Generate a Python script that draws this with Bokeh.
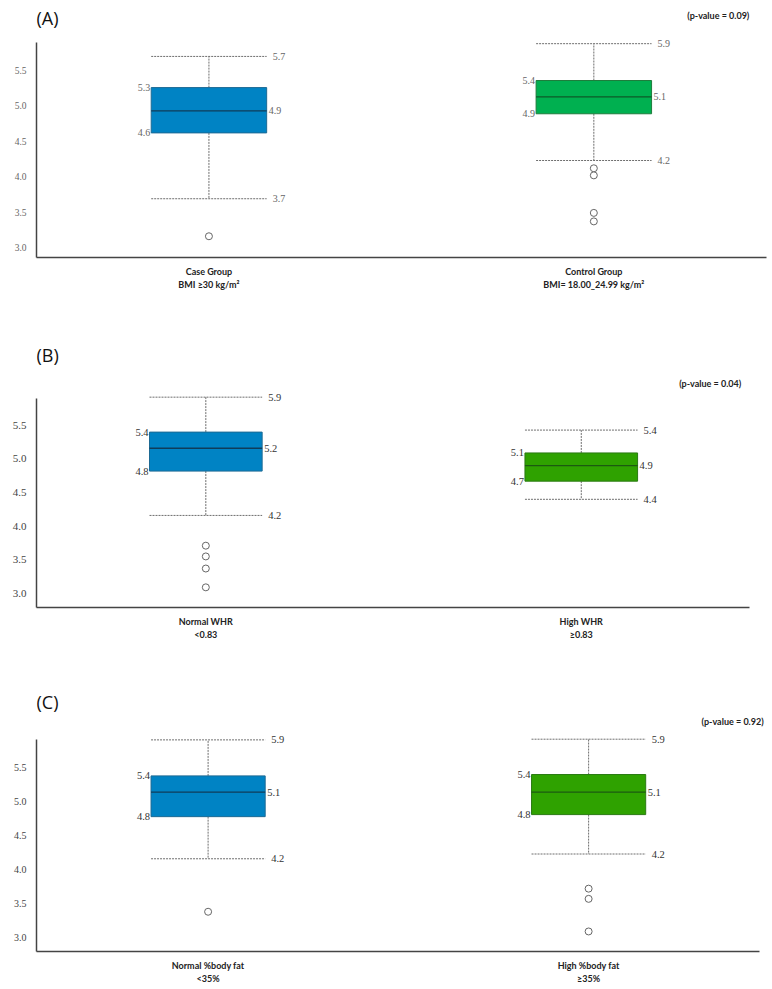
from bokeh.plotting import figure
from bokeh.models import Range1d, FixedTicker, Label, NumeralTickFormatter
from bokeh.layouts import column
from bokeh.embed import file_html
from bokeh.resources import INLINE
from bokeh.core.properties import value

# ---------------- data ----------------
y_ticks = [3.0, 3.5, 4.0, 4.5, 5.0, 5.5]

a_groups = ["Case Group\nBMI \u226530 kg/m\u00b2", "Control Group\nBMI= 18.00_24.99 kg/m\u00b2"]
a_lower = [3.69, 4.23]
a_q1 = [4.62, 4.89]
a_median = [4.93, 5.13]
a_q3 = [5.26, 5.36]
a_upper = [5.70, 5.88]
a_outliers = [[3.16], [4.12, 4.02, 3.49, 3.37]]
a_pvalue = "(p-value = 0.09)"

b_groups = ["Normal WHR\n<0.83", "High WHR\n\u22650.83"]
b_lower = [4.16, 4.40]
b_q1 = [4.82, 4.67]
b_median = [5.16, 4.90]
b_q3 = [5.40, 5.09]
b_upper = [5.92, 5.43]
b_outliers = [[3.71, 3.55, 3.37, 3.09], []]
b_pvalue = "(p-value = 0.04)"

c_groups = ["Normal %body fat\n<35%", "High %body fat\n\u226535%"]
c_lower = [4.16, 4.23]
c_q1 = [4.78, 4.81]
c_median = [5.14, 5.14]
c_q3 = [5.38, 5.40]
c_upper = [5.91, 5.92]
c_outliers = [[3.38], [3.72, 3.57, 3.09]]
c_pvalue = "(p-value = 0.92)"

BOX_W = 0.30
SERIF = value("Liberation Serif")
W = 770


def panel(tag, groups, lower, q1, med, q3, upper, outliers, ptext,
          fills, edges, medcols, H, bottom, left, yr, ybound, xr, xbound,
          tick_size, tick_color, lab_size, lab_color, tag_pos, p_pos):
    p = figure(width=W, height=H, output_backend="svg", toolbar_location=None,
               x_range=Range1d(*xr), y_range=Range1d(*yr),
               min_border_top=0, min_border_bottom=bottom,
               min_border_left=left, min_border_right=0)
    p.outline_line_color = None
    p.grid.visible = False
    p.background_fill_color = "white"
    pos = [1.0, 2.0]
    hw = BOX_W / 2
    xl = [x - hw for x in pos]
    xr_ = [x + hw for x in pos]

    # whiskers (dotted)
    for a, b in ((q3, upper), (q1, lower)):
        p.segment(x0=pos, y0=a, x1=pos, y1=b, line_color="#6e6e6e",
                  line_width=1, line_dash="2 1")
    for v in (upper, lower):
        p.segment(x0=xl, y0=v, x1=xr_, y1=v, line_color="#6e6e6e",
                  line_width=1, line_dash="2 1")
    # boxes
    p.vbar(x=pos, width=BOX_W, bottom=q1, top=q3, fill_color=fills,
           line_color=edges, line_width=1)
    p.segment(x0=xl, y0=med, x1=xr_, y1=med, line_color=medcols, line_width=1.3)
    # outliers
    ox, oy = [], []
    for x, vals in zip(pos, outliers):
        for v in vals:
            ox.append(x)
            oy.append(v)
    if ox:
        p.scatter(x=ox, y=oy, size=7, marker="circle", fill_color="white",
                  line_color="#666666", line_width=1)
    # value labels
    fmt = lambda arr: [f"{v:.1f}" for v in arr]
    kw = dict(text_font=SERIF, text_font_size=f"{lab_size}px", text_color=lab_color,
              text_baseline="middle")
    p.text(x=xl, y=q3, text=fmt(q3), text_align="right", x_offset=-1, **kw)
    p.text(x=xl, y=q1, text=fmt(q1), text_align="right", x_offset=-1, **kw)
    p.text(x=xr_, y=med, text=fmt(med), text_align="left", x_offset=2, **kw)
    p.text(x=xr_, y=upper, text=fmt(upper), text_align="left", x_offset=6, **kw)
    p.text(x=xr_, y=lower, text=fmt(lower), text_align="left", x_offset=6, **kw)

    # axes
    p.yaxis.ticker = FixedTicker(ticks=y_ticks)
    p.yaxis.formatter = NumeralTickFormatter(format="0.0")
    p.yaxis.bounds = ybound
    p.yaxis.major_label_text_font = "Liberation Serif"
    p.yaxis.major_label_text_font_size = f"{tick_size}px"
    p.yaxis.major_label_text_color = tick_color
    p.yaxis.major_tick_out = 0
    p.yaxis.major_tick_in = 0
    p.yaxis.minor_tick_out = 0
    p.yaxis.minor_tick_in = 0
    p.yaxis.major_label_standoff = 10
    p.xaxis.ticker = FixedTicker(ticks=pos)
    p.xaxis.bounds = xbound
    p.xaxis.major_label_overrides = {1: groups[0], 2: groups[1]}
    p.xaxis.major_label_text_font = "Lato"
    p.xaxis.major_label_text_font_style = "bold"
    p.xaxis.major_label_text_font_size = "9px"
    p.xaxis.major_label_text_color = "#222222"
    p.xaxis.major_tick_out = 0
    p.xaxis.major_tick_in = 0
    p.xaxis.minor_tick_out = 0
    p.xaxis.minor_tick_in = 0
    p.xaxis.major_label_standoff = 8
    for ax in (p.xaxis, p.yaxis):
        ax.axis_line_color = "#444444"
        ax.axis_line_width = 1.5

    p.add_layout(Label(x=tag_pos[0], y=tag_pos[1], text=tag, text_font="Open Sans",
                       text_font_size="18px", text_color="#111111",
                       text_baseline="middle", text_align="left"))
    p.add_layout(Label(x=p_pos[0], y=p_pos[1], text=ptext, text_font="Lato",
                       text_font_style="bold", text_font_size="9px",
                       text_color="#222222", text_baseline="middle",
                       text_align="right"))
    return p


pa = panel("(A)", a_groups, a_lower, a_q1, a_median, a_q3, a_upper, a_outliers,
           a_pvalue, ["#0083C4", "#00B050"], ["#1d6a94", "#1e7d3c"],
           ["#0f3d5a", "#0d5a28"], 330, 73, 34,
           (2.86, 6.49), (2.86, 5.90), (0.552, 2.459), (0.552, 2.448),
           9.5, "#666666", 10, "#666666",
           (0.552, 6.236), (2.404, 6.278))
pb = panel("(B)", b_groups, b_lower, b_q1, b_median, b_q3, b_upper, b_outliers,
           b_pvalue, ["#0083C4", "#2FA200"], ["#1d6a94", "#2a7a12"],
           ["#0f3d5a", "#1c5a10"], 325, 48, 36,
           (2.79, 6.912), (2.79, 5.90), (0.549, 2.504), (0.549, 2.448),
           11, "#444444", 10.5, "#333333",
           (0.549, 6.54), (2.426, 6.123))
pc = panel("(C)", c_groups, c_lower, c_q1, c_median, c_q3, c_upper, c_outliers,
           c_pvalue, ["#0083C4", "#2FA200"], ["#1d6a94", "#2a7a12"],
           ["#0f3d5a", "#1c5a10"], 331, 33, 32,
           (2.795, 7.152), (2.795, 5.91), (0.549, 2.478), (0.549, 2.450),
           10, "#444444", 10.5, "#333333",
           (0.549, 6.465), (2.46, 6.187))

layout = column(pa, pb, pc)
open("out.html", "w").write(file_html(layout, INLINE))
